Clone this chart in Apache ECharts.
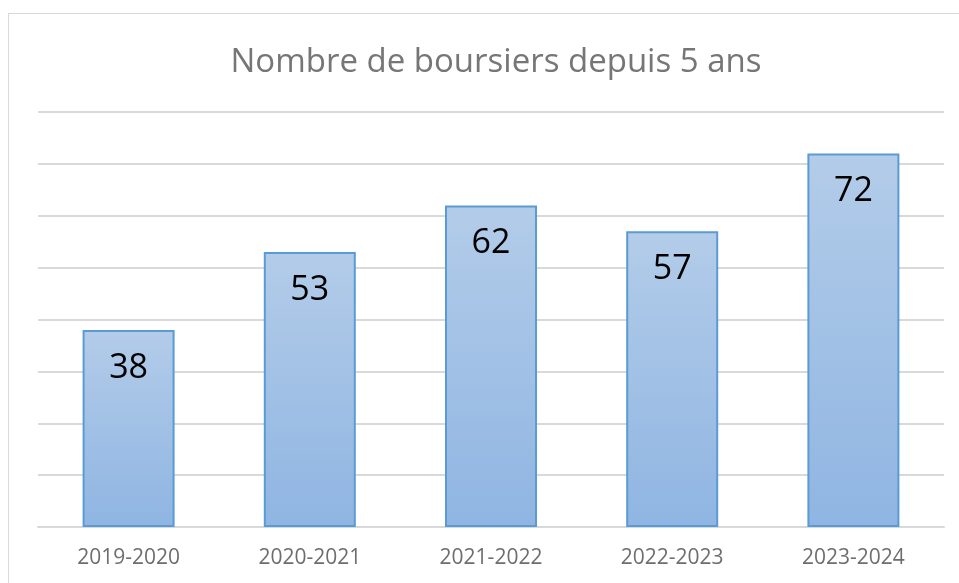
<!DOCTYPE html>
<html>
<head>
<meta charset="utf-8">
<script src="https://cdn.jsdelivr.net/npm/echarts@6/dist/echarts.min.js"></script>
<style>
  html, body { margin: 0; padding: 0; background: #fff; overflow: hidden; }
  #frame { position: absolute; left: 8px; top: 13px; width: 1000px; height: 620px; border: 1px solid #d9d9d9; box-sizing: border-box; }
  #chart { position: absolute; left: 0; top: 0; width: 959px; height: 583px; }
</style>
</head>
<body>
<div id="frame"></div>
<div id="chart"></div>
<script>
// données
const categories = ['2019-2020', '2020-2021', '2021-2022', '2022-2023', '2023-2024']
const boursiers = [38, 53, 62, 57, 72]
const yMin = 0
const yMax = 80
const yStep = 10

const chart = echarts.init(document.getElementById('chart'))

const option = {
  animation: false,
  title: {
    text: 'Nombre de boursiers depuis 5 ans',
    left: 491,
    top: 41,
    textAlign: 'center',
    textStyle: {
      fontFamily: 'Open Sans',
      fontSize: 33,
      fontWeight: 'normal',
      color: '#767676'
    }
  },
  grid: {
    left: 38,
    right: 15,
    top: 112,
    bottom: 56
  },
  xAxis: {
    type: 'category',
    data: categories,
    axisLine: {lineStyle: {color: '#d9d9d9', width: 2}},
    axisTick: {show: false},
    axisLabel: {
      fontFamily: 'Open Sans',
      fontSize: 21,
      color: '#6e6e6e',
      margin: 21
    }
  },
  yAxis: {
    type: 'value',
    min: yMin,
    max: yMax,
    interval: yStep,
    axisLabel: {show: false},
    axisLine: {show: false},
    axisTick: {show: false},
    splitLine: {lineStyle: {color: '#d9d9d9', width: 2}}
  },
  series: [{
    type: 'bar',
    data: boursiers,
    barWidth: 92,
    itemStyle: {
      color: new echarts.graphic.LinearGradient(0, 0, 0, 1, [
        {offset: 0, color: '#b3cce9'},
        {offset: 1, color: '#8fb5e2'}
      ]),
      borderColor: '#5b9bd5',
      borderWidth: 2
    },
    label: {
      show: true,
      position: 'insideTop',
      distance: 21,
      fontFamily: 'Open Sans',
      fontSize: 34,
      color: '#000'
    }
  }]
}

chart.setOption(option)
</script>
</body>
</html>
